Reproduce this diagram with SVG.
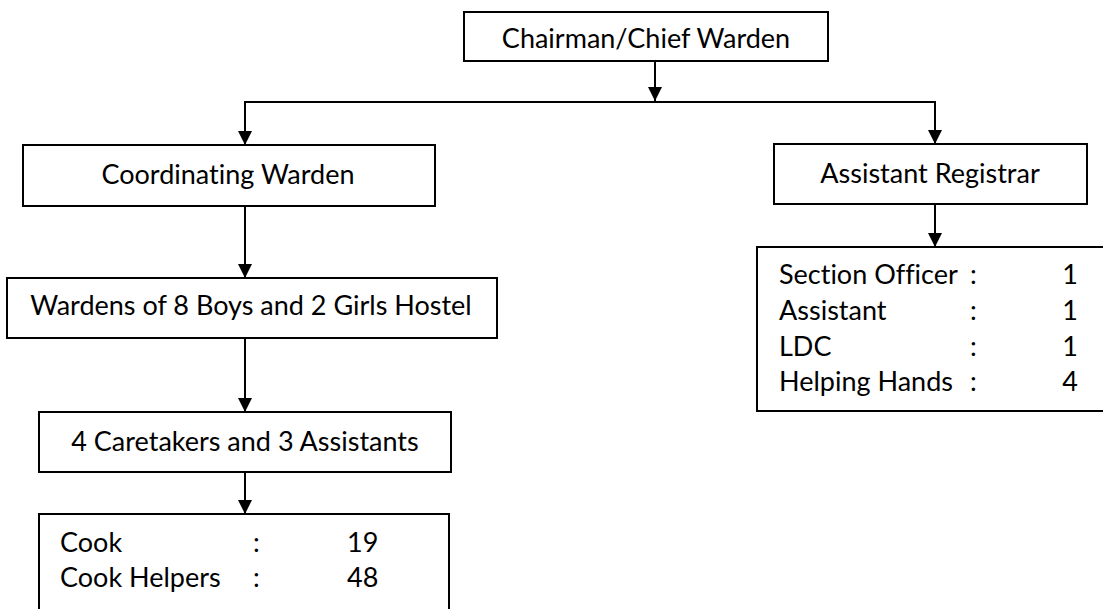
<svg xmlns="http://www.w3.org/2000/svg" width="1103" height="609" viewBox="0 0 1103 609">
<defs>
<style>
.box{fill:#fff;stroke:#000;stroke-width:2}
.t{font-family:Lato,"Liberation Sans",sans-serif;font-size:27px;fill:#000;font-variant-ligatures:none}
.c{text-anchor:middle}
.r{text-anchor:end}
.ln{fill:none;stroke:#000;stroke-width:2}
</style>
<marker id="ah" viewBox="0 0 14 14" refX="14" refY="7" markerWidth="14" markerHeight="14" markerUnits="userSpaceOnUse" orient="auto">
<path d="M0,0 L14,7 L0,14 Z" fill="#000"/>
</marker>
</defs>
<rect width="1103" height="609" fill="#fff"/>
<g id="connectors">
<line class="ln" x1="655" y1="61" x2="655" y2="101" marker-end="url(#ah)"/>
<line class="ln" x1="244" y1="102" x2="936" y2="102"/>
<line class="ln" x1="245" y1="102" x2="245" y2="145" marker-end="url(#ah)"/>
<line class="ln" x1="935" y1="102" x2="935" y2="144" marker-end="url(#ah)"/>
<line class="ln" x1="245" y1="206" x2="245" y2="278" marker-end="url(#ah)"/>
<line class="ln" x1="935" y1="204" x2="935" y2="247" marker-end="url(#ah)"/>
<line class="ln" x1="245" y1="338" x2="245" y2="412" marker-end="url(#ah)"/>
<line class="ln" x1="245" y1="472" x2="245" y2="514" marker-end="url(#ah)"/>
</g>
<g id="chairman">
<rect class="box" x="464" y="12" width="364" height="49"/>
<text class="t c" x="646" y="48">Chairman/Chief Warden</text>
</g>
<g id="coordinating">
<rect class="box" x="23" y="145" width="412" height="61"/>
<text class="t c" x="228" y="184">Coordinating Warden</text>
</g>
<g id="registrar">
<rect class="box" x="774" y="144" width="313" height="60"/>
<text class="t c" x="930" y="183">Assistant Registrar</text>
</g>
<g id="wardens">
<rect class="box" x="7" y="278" width="490" height="60"/>
<text class="t c" x="251" y="315">Wardens of 8 Boys and 2 Girls Hostel</text>
</g>
<g id="caretakers">
<rect class="box" x="39" y="412" width="412" height="60"/>
<text class="t c" x="245" y="451">4 Caretakers and 3 Assistants</text>
</g>
<g id="cooks">
<rect class="box" x="39" y="514" width="410" height="100"/>
<text class="t" x="60" y="552">Cook</text>
<text class="t" x="253" y="552">:</text>
<text class="t" x="347" y="552">19</text>
<text class="t" x="60" y="587">Cook Helpers</text>
<text class="t" x="253" y="587">:</text>
<text class="t" x="347" y="587">48</text>
</g>
<g id="staff">
<rect class="box" x="757" y="247" width="350" height="164"/>
<text class="t" x="779" y="284">Section Officer</text>
<text class="t" x="970" y="284">:</text>
<text class="t r" x="1078" y="284">1</text>
<text class="t" x="779" y="320">Assistant</text>
<text class="t" x="970" y="320">:</text>
<text class="t r" x="1078" y="320">1</text>
<text class="t" x="779" y="356">LDC</text>
<text class="t" x="970" y="356">:</text>
<text class="t r" x="1078" y="356">1</text>
<text class="t" x="779" y="391">Helping Hands</text>
<text class="t" x="970" y="391">:</text>
<text class="t r" x="1078" y="391">4</text>
</g>
</svg>
